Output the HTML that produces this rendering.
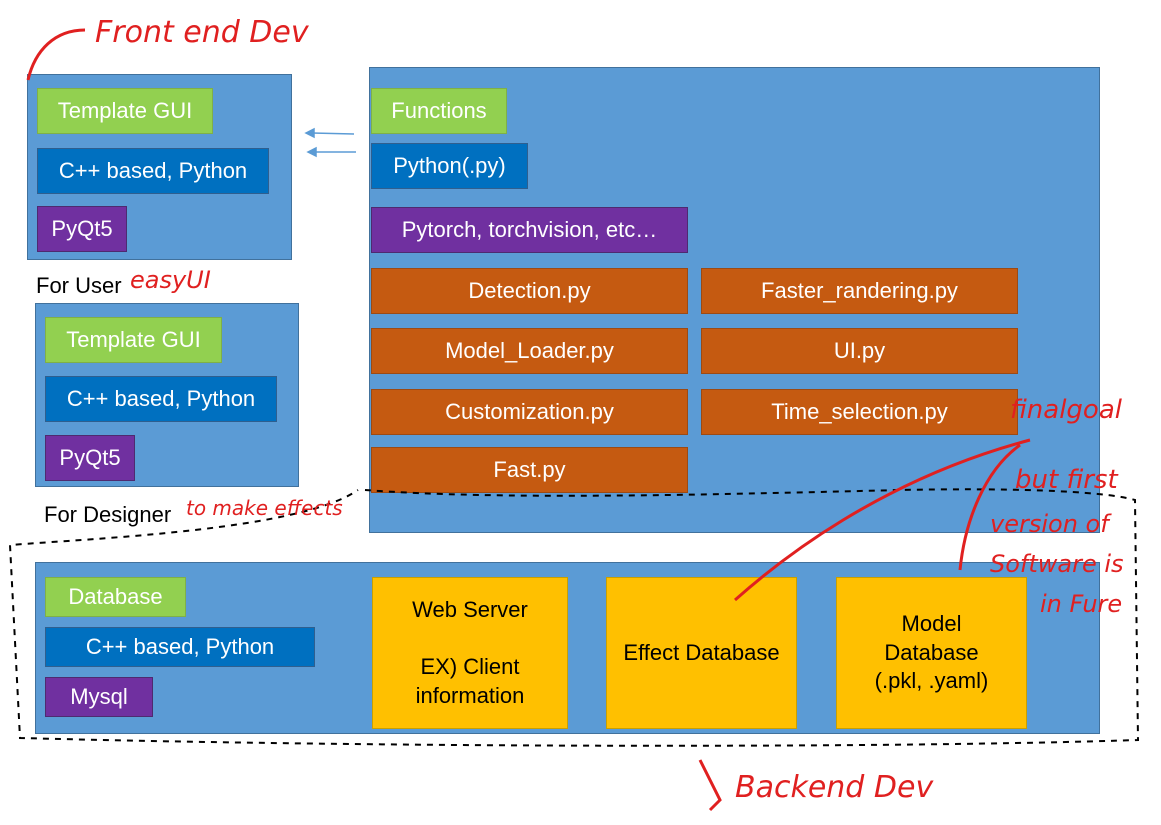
<!DOCTYPE html>
<html><head><meta charset="utf-8"><style>
body{margin:0;width:1161px;height:825px;background:#fff;position:relative;overflow:hidden;font-family:"Liberation Sans","DejaVu Sans",sans-serif}
.b{position:absolute;box-sizing:border-box;color:#fff;font-size:22px;display:flex;align-items:center;justify-content:center;text-align:center;line-height:1.3}
.p{background:#5b9bd5;border:1px solid #41719c}
.g{background:#92d050;border:1px solid #7fb048}
.u{background:#0070c0;border:1px solid #2f5f8f}
.v{background:#7030a0;border:1px solid #4e2a70}
.o{background:#c55a11;border:1px solid #9c4a14}
.y{background:#ffc000;border:1px solid #c9a000;color:#000}
.t{position:absolute;font-size:22px;color:#000}
.r{position:absolute;color:#e02020;font-family:"DejaVu Sans",sans-serif;font-style:italic;white-space:nowrap}
</style></head><body>
<div class="b p" style="left:27px;top:74px;width:265px;height:186px"></div>
<div class="b g" style="left:37px;top:88px;width:176px;height:46px">Template GUI</div>
<div class="b u" style="left:37px;top:148px;width:232px;height:46px">C++ based, Python</div>
<div class="b v" style="left:37px;top:206px;width:90px;height:46px">PyQt5</div>
<div class="t" style="left:36px;top:273px">For User</div>
<div class="b p" style="left:35px;top:303px;width:264px;height:184px"></div>
<div class="b g" style="left:45px;top:317px;width:177px;height:46px">Template GUI</div>
<div class="b u" style="left:45px;top:376px;width:232px;height:46px">C++ based, Python</div>
<div class="b v" style="left:45px;top:435px;width:90px;height:46px">PyQt5</div>
<div class="t" style="left:44px;top:502px">For Designer</div>
<div class="b p" style="left:369px;top:67px;width:731px;height:466px"></div>
<div class="b g" style="left:371px;top:88px;width:136px;height:46px">Functions</div>
<div class="b u" style="left:371px;top:143px;width:157px;height:46px">Python(.py)</div>
<div class="b v" style="left:371px;top:207px;width:317px;height:46px">Pytorch, torchvision, etc…</div>
<div class="b o" style="left:371px;top:268px;width:317px;height:46px">Detection.py</div>
<div class="b o" style="left:701px;top:268px;width:317px;height:46px">Faster_randering.py</div>
<div class="b o" style="left:371px;top:328px;width:317px;height:46px">Model_Loader.py</div>
<div class="b o" style="left:701px;top:328px;width:317px;height:46px">UI.py</div>
<div class="b o" style="left:371px;top:389px;width:317px;height:46px">Customization.py</div>
<div class="b o" style="left:701px;top:389px;width:317px;height:46px">Time_selection.py</div>
<div class="b o" style="left:371px;top:447px;width:317px;height:46px">Fast.py</div>
<div class="b p" style="left:35px;top:562px;width:1065px;height:172px"></div>
<div class="b g" style="left:45px;top:577px;width:141px;height:40px">Database</div>
<div class="b u" style="left:45px;top:627px;width:270px;height:40px">C++ based, Python</div>
<div class="b v" style="left:45px;top:677px;width:108px;height:40px">Mysql</div>
<div class="b y" style="left:372px;top:577px;width:196px;height:152px">Web Server<br><br>EX) Client<br>information</div>
<div class="b y" style="left:606px;top:577px;width:191px;height:152px">Effect Database</div>
<div class="b y" style="left:836px;top:577px;width:191px;height:152px">Model<br>Database<br>(.pkl, .yaml)</div>
<svg style="position:absolute;left:0;top:0" width="1161" height="825">
<g stroke="#5b9bd5" stroke-width="1.5" fill="#5b9bd5">
<line x1="354" y1="134" x2="312" y2="133"/><polygon points="306,133 314,129 314,137"/>
<line x1="356" y1="152" x2="314" y2="152"/><polygon points="308,152 316,148 316,156"/>
</g>
<path d="M365,490 C500,500 700,495 900,490 C1000,488 1100,490 1135,500 L1138,740 C900,748 400,748 20,738 L10,545 C100,538 300,530 358,490" fill="none" stroke="#000" stroke-width="2" stroke-dasharray="6,6"/>
<g stroke="#e02020" stroke-width="3" fill="none">
<path d="M28,80 C35,50 55,30 85,30"/>
<path d="M735,600 C780,560 880,480 1030,440"/>
<path d="M960,570 C965,520 985,470 1020,445"/>
<path d="M700,760 L720,800 L710,810"/>
</g>
</svg>
<div class="r" style="left:95px;top:15px;font-size:30px">Front end Dev</div>
<div class="r" style="left:130px;top:266px;font-size:24px">easyUI</div>
<div class="r" style="left:186px;top:496px;font-size:20px">to make effects</div>
<div class="r" style="left:1010px;top:395px;font-size:26px">finalgoal</div>
<div class="r" style="left:1015px;top:465px;font-size:26px">but first</div>
<div class="r" style="left:990px;top:510px;font-size:24px">version of</div>
<div class="r" style="left:990px;top:550px;font-size:24px">Software is</div>
<div class="r" style="left:1040px;top:590px;font-size:24px">in Fure</div>
<div class="r" style="left:735px;top:770px;font-size:30px">Backend Dev</div>
</body></html>
